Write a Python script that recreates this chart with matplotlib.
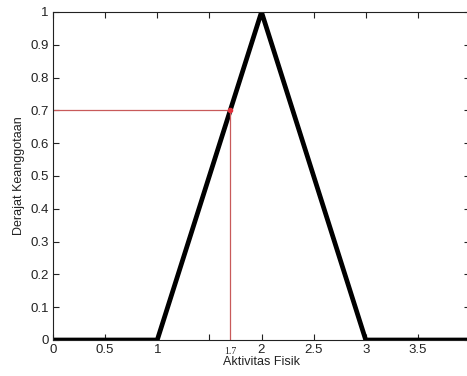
import matplotlib
matplotlib.use("Agg")
import matplotlib.pyplot as plt

# Triangular membership function for physical activity
x_pts = [0, 1, 2, 3, 4]
mu_pts = [0, 0, 1, 0, 0]

# Evaluated input and its membership degree
x_in = 1.7
mu_in = 0.7

xticks = [0, 0.5, 1, 1.5, 2, 2.5, 3, 3.5, 4]
xtick_labels = ["0", "0.5", "1", "", "2", "2.5", "3", "3.5", ""]
yticks = [0, 0.1, 0.2, 0.3, 0.4, 0.5, 0.6, 0.7, 0.8, 0.9, 1]
ytick_labels = ["0", "0.1", "0.2", "0.3", "0.4", "0.5", "0.6", "0.7", "0.8", "0.9", "1"]

plt.rcParams["font.family"] = ["Liberation Sans", "DejaVu Sans"]

W, H = 467, 376
fig = plt.figure(figsize=(W / 100, H / 100), dpi=100)
ax = fig.add_axes([53 / W, 1 - 340 / H, (470 - 53) / W, (340 - 12) / H])

ax.plot(x_pts, mu_pts, color="black", linewidth=3.4, solid_joinstyle="miter")
ax.plot([0, x_in, x_in], [mu_in, mu_in, 0], color="#c85a5a", linewidth=0.9)
ax.plot([x_in], [mu_in], marker="o", markersize=3, color="#e0303a", linestyle="none")

ax.set_xlim(0, 4)
ax.set_ylim(0, 1)
ax.set_xticks(xticks)
ax.set_xticklabels(xtick_labels)
ax.set_yticks(yticks)
ax.set_yticklabels(ytick_labels)
ax.tick_params(direction="in", length=4, width=0.8, labelsize=9.5, colors="#222222",
               top=True, right=True, pad=3)
for s in ax.spines.values():
    s.set_linewidth(0.8)
    s.set_color("#222222")

ax.text(x_in, -0.02, "1.7", ha="center", va="top", fontsize=7,
        family="Liberation Serif", color="#222222")

ax.set_xlabel("Aktivitas Fisik", fontsize=9, labelpad=0, color="#222222")
ax.set_ylabel("Derajat Keanggotaan", fontsize=9, labelpad=4, color="#222222")

fig.savefig("out.png", dpi=100)
